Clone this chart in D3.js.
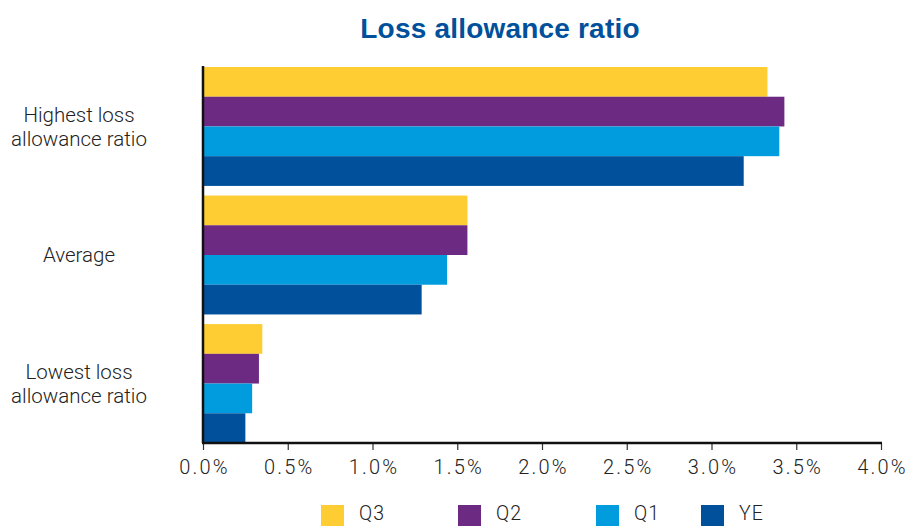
<!DOCTYPE html>
<html>
<head>
<meta charset="utf-8">
<script src="https://cdn.jsdelivr.net/npm/d3@7"></script>
<style>
  html, body { margin: 0; padding: 0; background: #fff; }
  svg { display: block; }
</style>
</head>
<body>
<svg id="chart" width="911" height="526"></svg>
<script>
// Loss allowance ratio by period
const categories = ["Highest loss allowance ratio", "Average", "Lowest loss allowance ratio"];
const categoryLines = [["Highest loss", "allowance ratio"], ["Average"], ["Lowest loss", "allowance ratio"]];
const seriesNames = ["Q3", "Q2", "Q1", "YE"];
const seriesColors = ["#fecd33", "#6d2a83", "#009cdd", "#00509b"];
const q3Values = [3.33, 1.56, 0.35];
const q2Values = [3.43, 1.56, 0.33];
const q1Values = [3.40, 1.44, 0.29];
const yeValues = [3.19, 1.29, 0.25];
const tickValues = [0, 0.5, 1.0, 1.5, 2.0, 2.5, 3.0, 3.5, 4.0];

const seriesValues = [q3Values, q2Values, q1Values, yeValues];
const rows = categories.map((c, i) => ({
  category: c,
  values: seriesNames.map((s, j) => ({ series: s, value: seriesValues[j][i] }))
}));

const svg = d3.select("#chart");
const plotLeft = 203, plotRight = 881, plotTop = 67, plotBottom = 443;
const labelFont = "Roboto, Liberation Sans, sans-serif";

const x = d3.scaleLinear().domain([0, 4]).range([plotLeft, plotRight]);
const y = d3.scaleBand().domain(categories).range([plotTop, plotBottom]).paddingInner(0.075).paddingOuter(0);
const ySub = d3.scaleBand().domain(seriesNames).range([0, y.bandwidth()]).padding(0);
const color = d3.scaleOrdinal().domain(seriesNames).range(seriesColors);

// Title
svg.append("text")
  .attr("x", 500).attr("y", 38)
  .attr("text-anchor", "middle")
  .attr("font-family", "Liberation Sans, Arial, sans-serif")
  .attr("font-weight", "bold")
  .attr("font-size", 28)
  .attr("letter-spacing", 0.2)
  .attr("fill", "#00509b")
  .text("Loss allowance ratio");

// Bars
const groups = svg.append("g").selectAll("g")
  .data(rows).join("g")
  .attr("transform", d => `translate(0,${y(d.category)})`);

groups.selectAll("rect")
  .data(d => d.values).join("rect")
  .attr("x", x(0))
  .attr("y", d => ySub(d.series))
  .attr("width", d => x(d.value) - x(0))
  .attr("height", ySub.bandwidth())
  .attr("fill", d => color(d.series));

// Category labels
const catG = svg.append("g")
  .attr("font-family", labelFont)
  .attr("font-weight", 300)
  .attr("font-size", 20.5)
  .attr("fill", "#222");
categories.forEach((c, i) => {
  const lines = categoryLines[i];
  const cy = y(c) + y.bandwidth() / 2;
  const lh = 24;
  lines.forEach((ln, k) => {
    catG.append("text")
      .attr("x", 79)
      .attr("y", cy + (k - (lines.length - 1) / 2) * lh)
      .attr("dy", "0.35em")
      .attr("text-anchor", "middle")
      .text(ln);
  });
});

// X axis
const xAxis = d3.axisBottom(x)
  .tickValues(tickValues)
  .tickFormat(d => d3.format(".1f")(d) + "%")
  .tickSize(7)
  .tickPadding(10);

const axG = svg.append("g")
  .attr("transform", `translate(0,${plotBottom})`)
  .call(xAxis);
axG.select(".domain").remove();
axG.append("line")
  .attr("x1", plotLeft - 1).attr("x2", plotRight + 1)
  .attr("y1", 0).attr("y2", 0)
  .attr("stroke", "#111").attr("stroke-width", 2.5);
axG.selectAll(".tick line").attr("stroke", "#333").attr("stroke-width", 1.2);
axG.selectAll(".tick text")
  .attr("font-family", labelFont)
  .attr("font-weight", 300)
  .attr("font-size", 20)
  .attr("letter-spacing", 2.2)
  .attr("dx", 1)
  .attr("fill", "#222");

// Y axis line
svg.append("line")
  .attr("x1", plotLeft).attr("x2", plotLeft)
  .attr("y1", plotTop - 1).attr("y2", plotBottom)
  .attr("stroke", "#111").attr("stroke-width", 2.5);

// Legend
const legendX = [321, 458, 596, 701];
const legend = svg.append("g");
seriesNames.forEach((s, i) => {
  legend.append("rect")
    .attr("x", legendX[i]).attr("y", 505)
    .attr("width", 23).attr("height", 21)
    .attr("fill", color(s));
  legend.append("text")
    .attr("x", legendX[i] + 38).attr("y", 520)
    .attr("font-family", labelFont)
    .attr("font-weight", 300)
    .attr("font-size", 19.5)
    .attr("letter-spacing", 1)
    .attr("fill", "#222")
    .text(s);
});
</script>
</body>
</html>
